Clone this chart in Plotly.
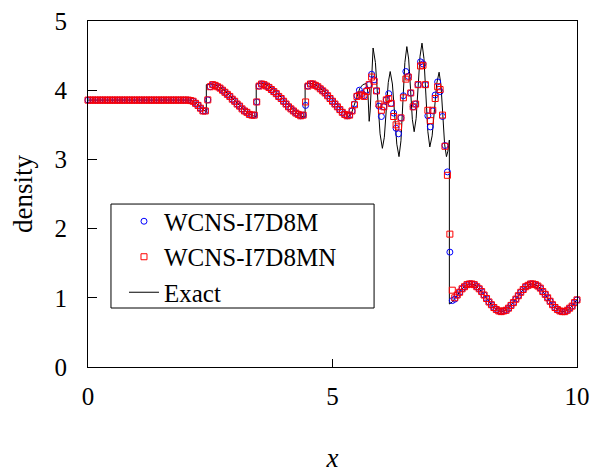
import plotly.graph_objects as go

# Uniform output grid of the two WCNS runs
GRID_START = 0.0
GRID_STEP = 0.05

# Density of WCNS-I7D8M on the grid
rho_m = [
    3.857, 3.857, 3.857, 3.857, 3.857, 3.857, 3.857, 3.857, 3.857, 3.857,
    3.857, 3.857, 3.857, 3.857, 3.857, 3.857, 3.857, 3.857, 3.857, 3.857,
    3.857, 3.857, 3.857, 3.857, 3.857, 3.857, 3.857, 3.857, 3.857, 3.857,
    3.857, 3.857, 3.857, 3.857, 3.857, 3.857, 3.857, 3.857, 3.857, 3.857,
    3.857, 3.857,
    3.85, 3.84, 3.81, 3.78, 3.74, 3.70, 3.70,
    3.86, 4.05, 4.08, 4.07, 4.05, 4.03, 4.00, 3.97, 3.94, 3.91,
    3.87, 3.84, 3.80, 3.77, 3.73, 3.70, 3.68, 3.65, 3.64, 3.64,
    3.83, 4.06, 4.09, 4.08, 4.06, 4.04, 4.01, 3.98, 3.95, 3.91,
    3.88, 3.84, 3.80, 3.76, 3.73, 3.70, 3.67, 3.65, 3.63, 3.64,
    3.78, 4.06, 4.09, 4.09, 4.07, 4.05, 4.02, 3.99, 3.96, 3.92,
    3.88, 3.84, 3.80, 3.76, 3.72, 3.68, 3.65, 3.63, 3.64, 3.70,
    3.80, 3.92, 4.00, 3.95, 3.92, 4.00, 4.08, 4.23, 4.15, 3.99,
    3.77, 3.62, 3.76, 3.86, 3.95, 3.81, 3.67, 3.45, 3.37, 3.60,
    3.92, 4.27, 4.20, 3.96, 3.76, 3.80, 4.08, 4.41, 4.38, 4.08,
    3.63, 3.47, 3.70, 3.93, 4.12, 3.98, 3.62, 3.20, 2.82, 1.66,
    0.96, 0.98,
    1.04, 1.08, 1.13, 1.16, 1.19, 1.20, 1.20, 1.19, 1.16, 1.13,
    1.09, 1.04, 0.99, 0.94, 0.90, 0.86, 0.83, 0.81, 0.80, 0.81,
    0.82, 0.85, 0.89, 0.93, 0.98, 1.03, 1.08, 1.12, 1.16, 1.18,
    1.20, 1.20, 1.19, 1.17, 1.14, 1.09, 1.05, 1.00, 0.95, 0.90,
    0.86, 0.83, 0.81, 0.80, 0.80, 0.82, 0.85, 0.88, 0.93, 0.97,
]

# Density of WCNS-I7D8MN on the grid
rho_mn = [
    3.857, 3.857, 3.857, 3.857, 3.857, 3.857, 3.857, 3.857, 3.857, 3.857,
    3.857, 3.857, 3.857, 3.857, 3.857, 3.857, 3.857, 3.857, 3.857, 3.857,
    3.857, 3.857, 3.857, 3.857, 3.857, 3.857, 3.857, 3.857, 3.857, 3.857,
    3.857, 3.857, 3.857, 3.857, 3.857, 3.857, 3.857, 3.857, 3.857, 3.857,
    3.857, 3.857,
    3.85, 3.84, 3.81, 3.78, 3.74, 3.70, 3.70,
    3.86, 4.05, 4.08, 4.07, 4.05, 4.03, 4.00, 3.97, 3.94, 3.91,
    3.87, 3.84, 3.80, 3.77, 3.73, 3.70, 3.68, 3.65, 3.64, 3.64,
    3.83, 4.06, 4.09, 4.08, 4.06, 4.04, 4.01, 3.98, 3.95, 3.91,
    3.88, 3.84, 3.80, 3.76, 3.73, 3.70, 3.67, 3.65, 3.63, 3.64,
    3.83, 4.06, 4.09, 4.09, 4.07, 4.05, 4.02, 3.99, 3.96, 3.92,
    3.88, 3.84, 3.80, 3.76, 3.72, 3.68, 3.65, 3.63, 3.64, 3.70,
    3.79, 3.91, 3.93, 3.93, 3.91, 3.98, 4.08, 4.19, 4.13, 3.99,
    3.80, 3.71, 3.76, 3.86, 3.88, 3.81, 3.62, 3.50, 3.47, 3.60,
    3.89, 4.16, 4.19, 3.96, 3.76, 3.80, 4.08, 4.35, 4.36, 4.08,
    3.71, 3.56, 3.71, 3.88, 4.05, 4.01, 3.64, 3.19, 2.77, 1.92,
    1.11, 1.00,
    1.04, 1.08, 1.13, 1.16, 1.19, 1.20, 1.20, 1.19, 1.16, 1.13,
    1.09, 1.04, 0.99, 0.94, 0.90, 0.86, 0.83, 0.81, 0.80, 0.81,
    0.82, 0.85, 0.89, 0.93, 0.98, 1.03, 1.08, 1.12, 1.16, 1.18,
    1.20, 1.20, 1.19, 1.17, 1.14, 1.09, 1.05, 1.00, 0.95, 0.90,
    0.86, 0.83, 0.81, 0.80, 0.80, 0.82, 0.85, 0.88, 0.93, 0.97,
]

# Reference (exact) density profile
exact_x = [
    0.00, 2.10, 2.20, 2.30, 2.38, 2.42, 2.42,
    2.50, 2.60, 2.70, 2.80, 2.90, 3.00, 3.10, 3.20, 3.30, 3.38, 3.44, 3.44,
    3.55, 3.65, 3.75, 3.85, 3.95, 4.05, 4.15, 4.25, 4.35, 4.44, 4.44,
    4.55, 4.65, 4.75, 4.85, 4.95, 5.05, 5.15, 5.25, 5.32, 5.38, 5.44,
    5.50, 5.56, 5.62, 5.70, 5.725, 5.75,
    5.77, 5.79, 5.81, 5.83,
    5.8775, 5.925, 5.9725, 6.02,
    6.06, 6.10, 6.14, 6.18,
    6.225, 6.27, 6.315, 6.36,
    6.40, 6.44, 6.48, 6.52,
    6.5575, 6.595, 6.6325, 6.67,
    6.71, 6.75, 6.79, 6.83,
    6.87, 6.91, 6.95, 6.99,
    7.0375, 7.085, 7.1325, 7.18,
    7.2175, 7.255, 7.2925, 7.33,
    7.36, 7.39, 7.39,
    7.45, 7.50, 7.55, 7.60, 7.65, 7.70, 7.75, 7.80, 7.85, 7.90,
    7.95, 8.00, 8.05, 8.10, 8.15, 8.20, 8.25, 8.30, 8.35, 8.40,
    8.45, 8.50, 8.55, 8.60, 8.65, 8.70, 8.75, 8.80, 8.85, 8.90,
    8.95, 9.00, 9.05, 9.10, 9.15, 9.20, 9.25, 9.30, 9.35, 9.40,
    9.45, 9.50, 9.55, 9.60, 9.65, 9.70, 9.75, 9.80, 9.85, 9.90,
    9.95, 10.00,
]
exact_y = [
    3.857, 3.857, 3.82, 3.76, 3.70, 3.68, 4.08,
    4.09, 4.08, 4.04, 3.99, 3.92, 3.85, 3.78, 3.71, 3.66, 3.63, 3.62, 4.09,
    4.10, 4.08, 4.03, 3.97, 3.90, 3.82, 3.75, 3.68, 3.63, 3.61, 4.09,
    4.10, 4.08, 4.03, 3.97, 3.90, 3.82, 3.74, 3.66, 3.62, 3.65, 3.78,
    3.93, 4.03, 4.08, 4.10, 3.95, 3.55,
    3.70, 4.08, 4.46, 4.61,
    4.40, 3.89, 3.37, 3.16,
    3.32, 3.72, 4.11, 4.27,
    4.09, 3.66, 3.22, 3.04,
    3.27, 3.84, 4.40, 4.63,
    4.45, 4.02, 3.58, 3.40,
    3.59, 4.04, 4.49, 4.68,
    4.46, 3.93, 3.40, 3.18,
    3.34, 3.72, 4.10, 4.26,
    4.08, 3.65, 3.22, 3.04,
    3.12, 3.28, 0.91,
    0.94, 0.99, 1.04, 1.08, 1.13, 1.16, 1.19, 1.20, 1.20, 1.19,
    1.16, 1.13, 1.09, 1.04, 0.99, 0.94, 0.90, 0.86, 0.83, 0.81,
    0.80, 0.81, 0.82, 0.85, 0.89, 0.93, 0.98, 1.03, 1.08, 1.12,
    1.16, 1.18, 1.20, 1.20, 1.19, 1.17, 1.14, 1.09, 1.05, 1.00,
    0.95, 0.90, 0.86, 0.83, 0.81, 0.80, 0.80, 0.82, 0.85, 0.88,
    0.93, 0.97,
]

x_grid = [round(GRID_START + GRID_STEP * i, 4) for i in range(len(rho_m))]

SERIF = "Liberation Serif"

fig = go.Figure()
fig.add_trace(go.Scatter(
    x=exact_x, y=exact_y, mode="lines", name="Exact", legendrank=3,
    line=dict(color="black", width=1),
))
fig.add_trace(go.Scatter(
    x=x_grid, y=rho_m, mode="markers", name="WCNS-I7D8M", legendrank=1,
    cliponaxis=False,
    marker=dict(symbol="circle-open", size=6, color="blue", line=dict(width=1)),
))
fig.add_trace(go.Scatter(
    x=x_grid, y=rho_mn, mode="markers", name="WCNS-I7D8MN", legendrank=2,
    cliponaxis=False,
    marker=dict(symbol="square-open", size=6, color="red", line=dict(width=1)),
))

axis_common = dict(
    ticks="inside", tickcolor="black", showline=True, linecolor="black",
    linewidth=1, mirror=True, showgrid=False, zeroline=False,
    automargin=False,
    tickfont=dict(family=SERIF, size=25, color="black"),
)

fig.update_xaxes(
    range=[0, 10], tickvals=[0, 5, 10], ticklen=8, ticklabelstandoff=7,
    title=dict(text="<i>x</i>", font=dict(family=SERIF, size=27, color="black"),
               standoff=50),
    **axis_common,
)
fig.update_yaxes(
    range=[0, 5], tickvals=[0, 1, 2, 3, 4, 5], ticklen=9, ticklabelstandoff=15,
    title=dict(text="density", font=dict(family=SERIF, size=27, color="black"),
               standoff=14),
    **axis_common,
)

# Frame around the legend block
fig.add_shape(
    type="rect", xref="paper", yref="paper",
    x0=0.047, x1=0.585, y0=0.1705, y1=0.471,
    line=dict(color="black", width=1), fillcolor="rgba(0,0,0,0)", layer="above",
)

fig.update_layout(
    width=593, height=473,
    margin=dict(l=88, r=16, t=21, b=106, autoexpand=False),
    paper_bgcolor="white", plot_bgcolor="white",
    font=dict(family=SERIF, color="black"),
    showlegend=True,
    legend=dict(
        x=0.0736, y=0.487, xanchor="left", yanchor="top",
        bgcolor="rgba(0,0,0,0)", borderwidth=0,
        font=dict(family=SERIF, size=25, color="black"),
        tracegroupgap=0,
    ),
)

fig.write_html("out.html")
